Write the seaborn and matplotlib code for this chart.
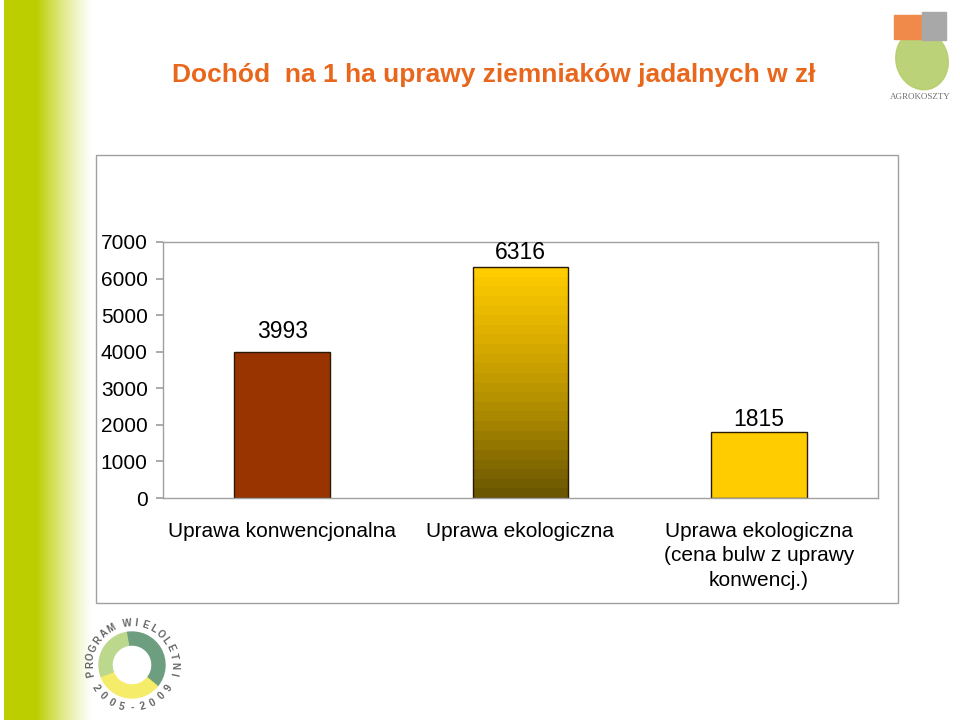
import numpy as np
import pandas as pd
import matplotlib
matplotlib.use("Agg")
import matplotlib.pyplot as plt
import seaborn as sns
from matplotlib.colors import LinearSegmentedColormap
from matplotlib.patches import Rectangle, Ellipse, Wedge

# --- dane z wykresu ---
kategorie = [
    "Uprawa konwencjonalna",
    "Uprawa ekologiczna",
    "Uprawa ekologiczna\n(cena bulw z uprawy\nkonwencj.)",
]
dochod = [3993, 6316, 1815]
y_ticks = [0, 1000, 2000, 3000, 4000, 5000, 6000, 7000]
tytul = "Dochód  na 1 ha uprawy ziemniaków jadalnych w zł"

# kolory i drobne przesunięcia etykiet (styl, nie dane)
kolory = ["#993300", "#FFCC00", "#FFCC00"]
offset_etykiet = [6.5, 2.5, 0.5]

sns.set_theme(style="white")
plt.rcParams["font.family"] = ["Liberation Sans", "DejaVu Sans"]

W, H = 960, 720
fig = plt.figure(figsize=(9.6, 7.2), dpi=100)
fig.patch.set_facecolor("white")

# --- zielony pasek po lewej ---
bg = fig.add_axes([0, 0, 96 / W, 1])
bg.set_axis_off()
n = 96
grad = np.ones((1, n, 3))
green = np.array([0.74, 0.81, 0.0])
for i in range(n):
    if i < 4:
        t = 0.0
    elif i < 36:
        t = 1.0
    else:
        t = max(0.0, 1 - (i - 36) / 56) ** 1.2
    grad[0, i] = (1 - t) * np.ones(3) + t * green
bg.imshow(grad, aspect="auto", extent=(0, 1, 0, 1))
bg.set_xlim(0, 1)
bg.set_ylim(0, 1)

# --- ramka wykresu ---
fig.patches.append(Rectangle((96 / W, 1 - 603 / H), (898 - 96) / W, (603 - 155) / H,
                             transform=fig.transFigure, fill=False,
                             edgecolor="#A0A0A0", lw=1.0))

# --- tytuł ---
fig.text(172 / W, 1 - 75 / H, tytul, ha="left", va="center",
         fontsize=19, fontweight="bold", color="#E8671D")

# --- wykres słupkowy ---
ax = fig.add_axes([163 / W, 1 - 498 / H, (878 - 163) / W, (498 - 242) / H])
df = pd.DataFrame({"kategoria": kategorie, "dochod": dochod})
sns.barplot(data=df, x="kategoria", y="dochod", hue="kategoria",
            palette=kolory, width=0.4, edgecolor="#2a1a00", linewidth=1.0,
            legend=False, ax=ax, saturation=1)

# gradient w środkowym słupku
p = ax.patches[1]
x0, w, h = p.get_x(), p.get_width(), p.get_height()
cmap = LinearSegmentedColormap.from_list("eko", ["#6B5700", "#A88700", "#D8AA00", "#FFCC00"])
steps = np.linspace(0, 1, 24).reshape(-1, 1)
im = ax.imshow(steps, cmap=cmap, aspect="auto", origin="lower",
               extent=(x0, x0 + w, 0, h), zorder=p.get_zorder() - 0.1)
im.set_clip_path(p)
p.set_facecolor("none")

ax.set_xlim(-0.5, 2.5)
ax.set_ylim(0, 7000)
ax.set_yticks(y_ticks)
ax.set_yticklabels([str(v) for v in y_ticks], fontsize=15, color="black")
ax.set_xlabel("")
ax.set_ylabel("")
ax.tick_params(axis="x", which="major", length=0, pad=17, labelsize=15, labelcolor="black")
ax.set_xticks([-0.5, 0.5, 1.5, 2.5], minor=True)
ax.tick_params(axis="x", which="minor", length=5, color="#A0A0A0", direction="out")
ax.tick_params(axis="y", length=5, color="#A0A0A0", direction="out", pad=6, left=True)
for lbl in ax.get_xticklabels():
    lbl.set_multialignment("center")
    lbl.set_linespacing(1.38)
for s in ax.spines.values():
    s.set_color("#A0A0A0")
    s.set_linewidth(1.0)

for i, (v, off) in enumerate(zip(dochod, offset_etykiet)):
    ax.annotate(str(v), xy=(i, v), xytext=(0, off), textcoords="offset points",
                ha="center", va="bottom", fontsize=16.5, color="black")

# --- logo AGROKOSZTY (uproszczone) ---
lg = fig.add_axes([880 / W, 1 - 110 / H, 80 / W, 110 / H])
lg.set_xlim(0, 80)
lg.set_ylim(110, 0)
lg.set_axis_off()
lg.add_patch(Ellipse((42, 60), 52, 60, angle=-15, color="#B5CE6A", alpha=0.9))
lg.add_patch(Rectangle((14, 15), 28, 24, color="#F08A4B"))
lg.add_patch(Rectangle((42, 12), 24, 28, color="#A8A8A8"))
lg.text(40, 97, "AGROKOSZTY", ha="center", va="center", fontsize=6.5,
        family="Liberation Serif", color="#707070")

# --- logo PROGRAM WIELOLETNI (uproszczone) ---
pl = fig.add_axes([67 / W, 0, 130 / W, 120 / H])
pl.set_xlim(-65, 65)
pl.set_ylim(-55, 65)
pl.set_axis_off()
for t1, t2, c in [(-40, 100, "#6E9E80"), (200, 320, "#F5EC6A"), (100, 200, "#BCD88C")]:
    pl.add_patch(Wedge((0, 0), 33, t1, t2, width=13, color=c))
txt = "PROGRAM WIELOLETNI"
for ch, a in zip(txt, np.linspace(192, -12, len(txt))):
    ra = np.radians(a)
    pl.text(42 * np.cos(ra), 42 * np.sin(ra), ch, rotation=a - 90,
            ha="center", va="center", fontsize=7, color="#666666", fontweight="bold")
txt = "2005-2009"
for ch, a in zip(txt, np.linspace(212, 328, len(txt))):
    ra = np.radians(a)
    pl.text(43 * np.cos(ra), 43 * np.sin(ra), ch, rotation=a + 90,
            ha="center", va="center", fontsize=7.5, color="#666666", fontweight="bold")

fig.savefig("out.png", dpi=100)
